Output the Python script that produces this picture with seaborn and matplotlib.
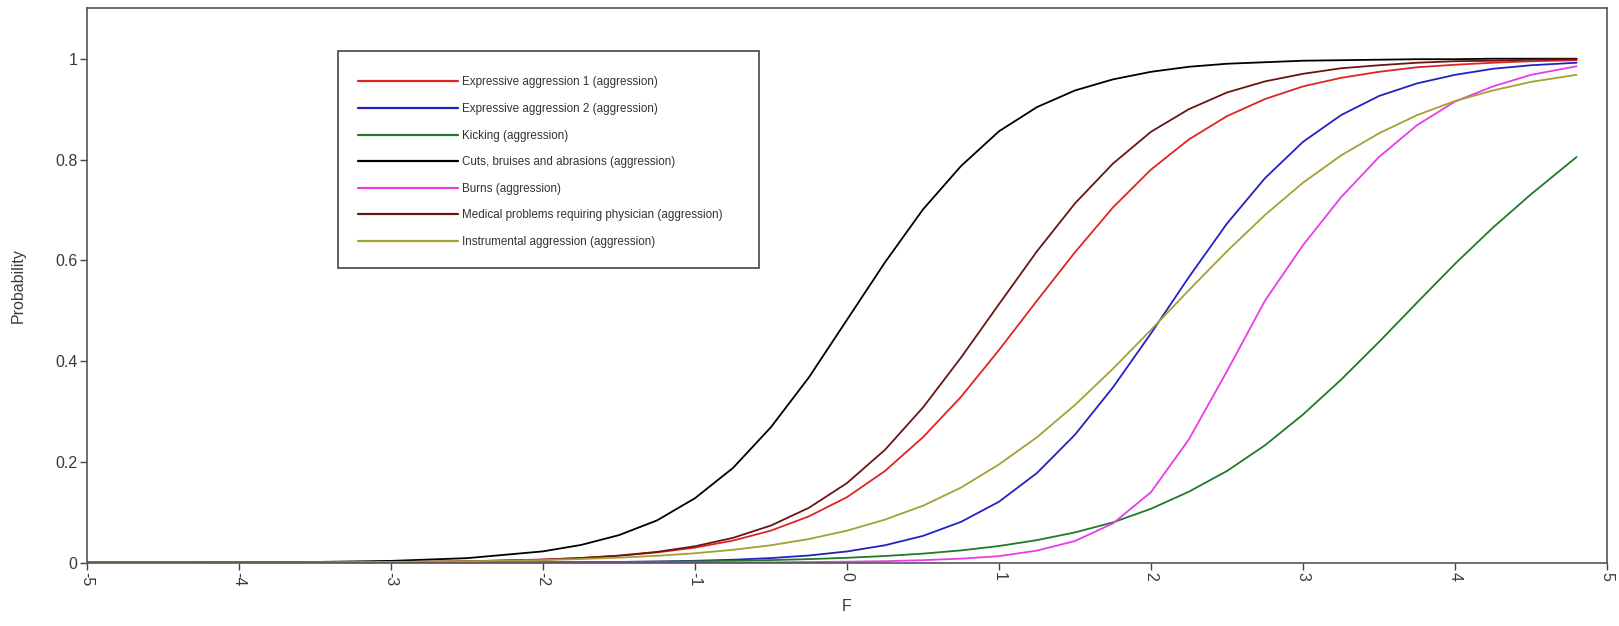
import seaborn as sns
import matplotlib.pyplot as plt
import matplotlib.patches as mpatches
import pandas as pd

# Data (probability curves by F)
F_values = [-5, -4, -3.5, -3, -2.5, -2, -1.75, -1.5, -1.25, -1, -0.75, -0.5, -0.25,
            0, 0.25, 0.5, 0.75, 1, 1.25, 1.5, 1.75, 2, 2.25, 2.5, 2.75, 3, 3.25,
            3.5, 3.75, 4, 4.25, 4.5, 4.8]

expressive_1 = [0.0001, 0.0003, 0.0006, 0.0013, 0.0029, 0.0063, 0.0094, 0.0138, 0.0204,
                0.0299, 0.0439, 0.0637, 0.092, 0.130, 0.182, 0.249, 0.329, 0.422, 0.520,
                0.616, 0.705, 0.780, 0.840, 0.886, 0.920, 0.945, 0.962, 0.974, 0.983,
                0.988, 0.992, 0.995, 0.997]
expressive_2 = [0, 0, 0, 0.0001, 0.0003, 0.0006, 0.0010, 0.0015, 0.0024, 0.0038, 0.0059,
                0.0092, 0.0143, 0.0223, 0.0346, 0.0532, 0.081, 0.121, 0.178, 0.254, 0.348,
                0.455, 0.567, 0.673, 0.763, 0.835, 0.888, 0.926, 0.951, 0.968, 0.980,
                0.987, 0.992]
kicking = [0, 0.0001, 0.0001, 0.0002, 0.0004, 0.0008, 0.0011, 0.0015, 0.0020, 0.0028,
           0.0038, 0.0052, 0.0071, 0.0097, 0.0133, 0.0180, 0.0244, 0.0331, 0.0448, 0.0601,
           0.080, 0.107, 0.141, 0.182, 0.233, 0.294, 0.363, 0.438, 0.516, 0.593, 0.665,
           0.731, 0.805]
cuts = [0.0001, 0.0006, 0.0014, 0.0036, 0.0090, 0.0225, 0.0352, 0.0547, 0.0839, 0.128,
        0.188, 0.269, 0.368, 0.482, 0.596, 0.701, 0.787, 0.856, 0.904, 0.937, 0.959, 0.974,
        0.984, 0.990, 0.993, 0.996, 0.997, 0.998, 0.999, 0.999, 1.0, 1.0, 1.0]
burns = [0, 0, 0, 0, 0, 0, 0, 0.0001, 0.0002, 0.0003, 0.0005, 0.0008, 0.0013, 0.002,
         0.003, 0.005, 0.008, 0.013, 0.024, 0.043, 0.078, 0.14, 0.245, 0.38, 0.52, 0.63,
         0.725, 0.805, 0.868, 0.915, 0.945, 0.968, 0.985]
medical = [0, 0.0002, 0.0005, 0.0011, 0.0026, 0.0060, 0.0092, 0.0141, 0.0215, 0.0326,
           0.0493, 0.0738, 0.109, 0.158, 0.224, 0.308, 0.407, 0.513, 0.618, 0.713, 0.792,
           0.855, 0.900, 0.933, 0.955, 0.970, 0.981, 0.987, 0.992, 0.995, 0.996, 0.998, 0.999]
instrumental = [0.0001, 0.0004, 0.0008, 0.0015, 0.0028, 0.0053, 0.0073, 0.0100, 0.0137,
                0.0187, 0.0256, 0.0346, 0.047, 0.0636, 0.0855, 0.113, 0.149, 0.195, 0.249,
                0.313, 0.385, 0.462, 0.541, 0.618, 0.690, 0.754, 0.808, 0.852, 0.888,
                0.916, 0.937, 0.954, 0.968]

item_names = ['Expressive aggression 1 (aggression)',
              'Expressive aggression 2 (aggression)',
              'Kicking (aggression)',
              'Cuts, bruises and abrasions (aggression)',
              'Burns (aggression)',
              'Medical problems requiring physician (aggression)',
              'Instrumental aggression (aggression)']
item_values = [expressive_1, expressive_2, kicking, cuts, burns, medical, instrumental]
item_colors = ['#e02424', '#2222c0', '#1f7a2a', '#000000', '#e83ce8', '#6a1414', '#a3a132']

x_ticks = [-5, -4, -3, -2, -1, 0, 1, 2, 3, 4, 5]
x_tick_labels = ['-5', '-4', '-3', '-2', '-1', '0', '1', '2', '3', '4', '5']
y_ticks = [0, 0.2, 0.4, 0.6, 0.8, 1]
y_tick_labels = ['0', '0.2', '0.4', '0.6', '0.8', '1']

# Long table for seaborn
rows = []
for name, vals in zip(item_names, item_values):
    for f, p in zip(F_values, vals):
        rows.append({'F': f, 'Probability': p, 'item': name})
df = pd.DataFrame(rows)

sns.set_style('ticks')
plt.rcParams['font.family'] = ['Liberation Sans', 'DejaVu Sans']

fig = plt.figure(figsize=(16.19, 6.26), dpi=100)
ax = fig.add_axes([87 / 1619, 1 - 562.7 / 626, 1520 / 1619, 554.4 / 626])

sns.lineplot(data=df, x='F', y='Probability', hue='item', hue_order=item_names,
             palette=dict(zip(item_names, item_colors)), linewidth=1.3,
             estimator=None, ax=ax)

ax.set_xlim(-5, 5)
ax.set_ylim(0, 1.1)
ax.set_xticks(x_ticks)
ax.set_xticklabels(x_tick_labels, rotation=-90, fontsize=11.5, color='#3a3a3a')
ax.set_yticks(y_ticks)
ax.set_yticklabels(y_tick_labels, fontsize=11.5, color='#3a3a3a')
ax.tick_params(direction='out', length=4.8, width=1, pad=2, color='#444444')
for side in ['top', 'right', 'left', 'bottom']:
    ax.spines[side].set_visible(True)
    ax.spines[side].set_color('#555555')
    ax.spines[side].set_linewidth(1.2)

ax.set_xlabel('F', fontsize=11.5, color='#3a3a3a')
ax.set_ylabel('Probability', fontsize=11.5, color='#3a3a3a')
ax.xaxis.set_label_coords(0.5, -0.066)
ax.yaxis.set_label_coords(-0.040, 0.5)

# Legend box
ax.add_patch(mpatches.Rectangle((0.165, 0.532), 0.277, 0.391, transform=ax.transAxes,
                                facecolor='white', edgecolor='#555555', linewidth=1.3,
                                zorder=4))
leg = ax.legend(loc='upper left', bbox_to_anchor=(0.1783, 0.877), frameon=False,
                fontsize=8.35, borderpad=0, borderaxespad=0, labelspacing=1.255,
                handlelength=8.6, handletextpad=0.4)
leg.set_zorder(5)
for t in leg.get_texts():
    t.set_color('#333333')
for line in leg.get_lines():
    line.set_linewidth(1.6)

plt.savefig('out.png', dpi=100)
